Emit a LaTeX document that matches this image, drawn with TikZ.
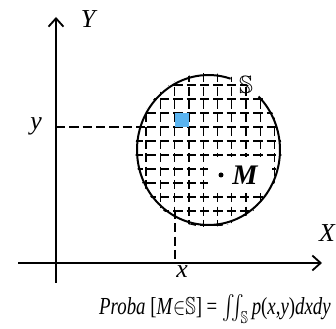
\documentclass[tikz,border=0pt]{standalone}
\usepackage{amsmath,amssymb}
\usepackage{fontspec}
\setmainfont{Liberation Serif}
\usetikzlibrary{arrows.meta}
\definecolor{cellblue}{RGB}{90,180,240}
\begin{document}
\begin{tikzpicture}[x=0.6pt,y=-0.6pt,
  axis/.style={line width=1.1pt,-{Straight Barb[length=5pt,width=9pt,line width=1.1pt]}},
  gridline/.style={line width=0.8pt,dash pattern=on 5.5pt off 2.5pt},
  lbl/.style={font=\itshape\fontsize{15.5}{17}\selectfont,inner sep=1pt}]
\useasboundingbox (0,0) rectangle (336,329);
% axes
\coordinate (xs) at (18,263);
\coordinate (xe) at (322,263);
\coordinate (ys) at (56,283);
\coordinate (ye) at (56,17);
\draw[axis] (xs) -- (xe);
\draw[axis] (ys) -- (ye);
\node[lbl] (labX) at (327,233) {X};
\node[lbl] (labY) at (88,19) {Y};
% grid inside S
\begin{scope}
\clip (208.5,150) ellipse [x radius=73, y radius=77];
\foreach \i in {-1,...,10}
  \draw[gridline] ({146+14.3*\i},60) -- ({146+14.3*\i},240);
\foreach \j in {-1,...,10}
  \draw[gridline] (120,{85+14*\j}) -- (300,{85+14*\j});
\end{scope}
\fill[cellblue] (175,113) rectangle (189,127);
% point M
\node[lbl,font=\bfseries\itshape\fontsize{17}{19}\selectfont,fill=white,
  minimum width=38pt,minimum height=22pt] (labM) at (240,175) {\hspace*{6pt}M};
\coordinate (ptM) at (221,175);
\fill (ptM) circle (2.5);
% the set S
\draw[line width=1.2pt] (208.5,150) ++(-45.5:71.5 and 75)
  arc[start angle=-45.5,end angle=288,x radius=71.5,y radius=75];
\node[inner sep=0pt,font=\fontsize{15}{16}\selectfont] (labS) at (246,85) {$\mathbb{S}$};
% projections
\coordinate (py) at (56,127);
\coordinate (pyc) at (146,127);
\coordinate (px) at (175,263);
\coordinate (pxc) at (175,210);
\draw[gridline] (py) -- (pyc);
\draw[gridline] (pxc) -- (px);
\node[lbl] (laby) at (36,126) {y};
\node[lbl] (labx) at (182,272) {x};
% probability
\node[inner sep=0pt,yscale=1.3,transform shape,font=\fontsize{11.3}{13}\selectfont] (proba) at (215,309)
  {\textit{Proba} [\textit{M}$\mathord{\in}\mathbb{S}$] = $\iint_{\mathbb{S}}$\,\textit{p}(\textit{x},\textit{y})\textit{dxdy}};
\end{tikzpicture}
\end{document}
